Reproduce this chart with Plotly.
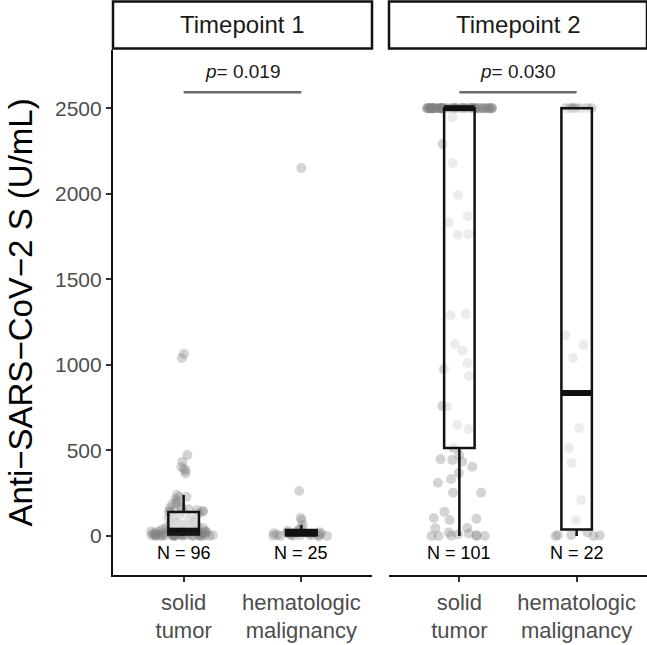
import numpy as np
import plotly.graph_objects as go

# ---------------- data ----------------
categories = ["solid<br>tumor", "hematologic<br>malignancy"]
facets = ["Timepoint 1", "Timepoint 2"]

t1_solid = [1065, 1040, 473, 434, 403, 391, 381, 365,
            240, 230, 228, 214, 201, 193, 186, 171, 164, 161, 156, 151, 148, 146, 144, 143,
            140, 134, 127, 121, 116, 109, 104, 99, 93, 87, 82, 77, 71, 64, 61, 57, 52, 48, 45, 41, 38, 36, 34, 32,
            30, 29, 28, 27, 26, 25, 24, 23, 22, 21, 20, 19, 18, 17, 16, 15, 14, 13, 12, 11, 10, 9.6, 9.1, 8.6,
            8, 7.4, 7, 6.3, 6, 5.6, 5, 4.4, 4, 3.7, 3, 2.6, 2, 1.8, 1.5, 1.1, 1, 0.8, 0.6, 0.5, 0.4, 0.3, 0.2, 0.1]
t1_heme = [2150, 263, 105, 93, 64, 47, 35, 30, 26, 22, 19, 16, 14, 12, 10, 8, 6, 5, 4, 3, 2, 1, 0.5, 0, 0]
t2_solid = ([2500] * 56 +
            [2447, 2290, 2179, 1992, 1869, 1834, 1764, 1760, 1297, 1290,
             1121, 1082, 1010, 975, 935, 759, 755, 648, 625, 514, 473, 448, 444, 434, 405,
             368, 333, 311, 253, 253, 142, 105, 100, 93, 47, 45, 20, 15, 10, 5, 2, 0, 0, 0, 0])
t2_heme = [2500] * 8 + [1174, 1116, 1040, 631, 514, 426, 210, 93, 20, 5, 5, 3, 0, 0]

groups = [[t1_solid, t1_heme], [t2_solid, t2_heme]]
p_values = ["0.019", "0.030"]

y_ticks = [0, 500, 1000, 1500, 2000, 2500]
y_title = "Anti\u2212SARS\u2212CoV\u22122 S (U/mL)"

# ---------------- figure ----------------
W, H = 647, 645
ML, MT, MB = 113, 50, 70
PH = H - MT - MB  # panel height in px

fig = go.Figure()
BOX_W = 0.26
JIT_W = 0.56
shapes = []
annotations = []

for f, facet in enumerate(facets):
    xa = "x" if f == 0 else "x2"
    ya = "y" if f == 0 else "y2"
    for c, vals in enumerate(groups[f]):
        pos = c + 1
        v = np.array(vals, dtype=float)
        # jittered points
        fig.add_trace(go.Box(
            x0=pos, y=v, width=JIT_W, boxpoints="all", jitter=1, pointpos=0,
            marker=dict(color="rgba(128,128,128,0.34)", size=10, line=dict(width=0)),
            line=dict(width=0, color="rgba(0,0,0,0)"), fillcolor="rgba(0,0,0,0)",
            whiskerwidth=0, showlegend=False, hoverinfo="skip", xaxis=xa, yaxis=ya))
        # box from computed statistics
        q1, med, q3 = np.percentile(v, [25, 50, 75])
        iqr = q3 - q1
        lo = v[v >= q1 - 1.5 * iqr].min()
        hi = v[v <= q3 + 1.5 * iqr].max()
        fig.add_trace(go.Box(
            x=[pos], q1=[q1], median=[med], q3=[q3], lowerfence=[lo], upperfence=[hi],
            width=BOX_W, boxpoints=False, whiskerwidth=0,
            line=dict(color="#111111", width=2.5), fillcolor="rgba(255,255,255,0.55)",
            showlegend=False, hoverinfo="skip", xaxis=xa, yaxis=ya))
        shapes.append(dict(type="line", xref=xa, yref=ya, x0=pos - BOX_W / 2, x1=pos + BOX_W / 2,
                           y0=med, y1=med, line=dict(color="#111111", width=6), layer="above"))
        annotations.append(dict(x=pos, y=-100, xref=xa, yref=ya, text=f"N = {len(vals)}",
                                xanchor="center", yanchor="middle",
                                showarrow=False, font=dict(size=18, color="#000000")))
    # p-value bracket
    shapes.append(dict(type="line", xref=xa, yref=ya, x0=1, x1=2, y0=2593, y1=2593,
                       line=dict(color="#6b6b6b", width=2.5)))
    annotations.append(dict(x=1.5, y=2712, xref=xa, yref=ya, text=f"<i>p</i>= {p_values[f]}",
                            xanchor="center", yanchor="middle",
                            showarrow=False, font=dict(size=19, color="#1a1a1a")))
    # strip
    dom = "x domain" if f == 0 else "x2 domain"
    shapes.append(dict(type="rect", xref=dom, yref="paper", x0=0, x1=1,
                       y0=1 + 1.5 / PH, y1=1 + 48.5 / PH,
                       line=dict(color="#111111", width=2.5), fillcolor="white"))
    annotations.append(dict(x=0.5, y=1 + 25 / PH, xref=dom, yref="paper", text=facet,
                            xanchor="center", yanchor="middle",
                            showarrow=False, font=dict(size=24, color="#1a1a1a")))

xcommon = dict(range=[0.4, 2.6], tickmode="array", tickvals=[1, 2], ticktext=categories,
               showline=True, linecolor="#111111", linewidth=2.2, ticks="outside",
               ticklen=5, tickwidth=1.5, tickcolor="#333333", showgrid=False, zeroline=False,
               tickfont=dict(size=22, color="#4d4d4d"), ticklabelstandoff=1)
fig.update_layout(
    width=W, height=H,
    margin=dict(l=ML, r=0, t=MT, b=MB),
    paper_bgcolor="white", plot_bgcolor="white",
    font=dict(family="Liberation Sans, Arial, sans-serif"),
    boxmode="overlay",
    xaxis=dict(domain=[0, 259 / 534], **xcommon),
    xaxis2=dict(domain=[276 / 534, 1], **xcommon),
    yaxis=dict(range=[-228, 2840], tickvals=y_ticks, showline=True, linecolor="#111111",
               linewidth=2.2, ticks="outside", ticklen=5, tickwidth=1.5, tickcolor="#333333",
               showgrid=False, zeroline=False, tickfont=dict(size=21, color="#4d4d4d"),
               title=dict(text=y_title, font=dict(size=33, color="#000000"), standoff=12)),
    yaxis2=dict(range=[-228, 2840], matches="y", anchor="x2", showticklabels=False,
                showline=False, ticks="", showgrid=False, zeroline=False),
    shapes=shapes, annotations=annotations,
)
fig.write_html("out.html", config={"displayModeBar": False},
               post_script="document.body.style.margin='0';")
